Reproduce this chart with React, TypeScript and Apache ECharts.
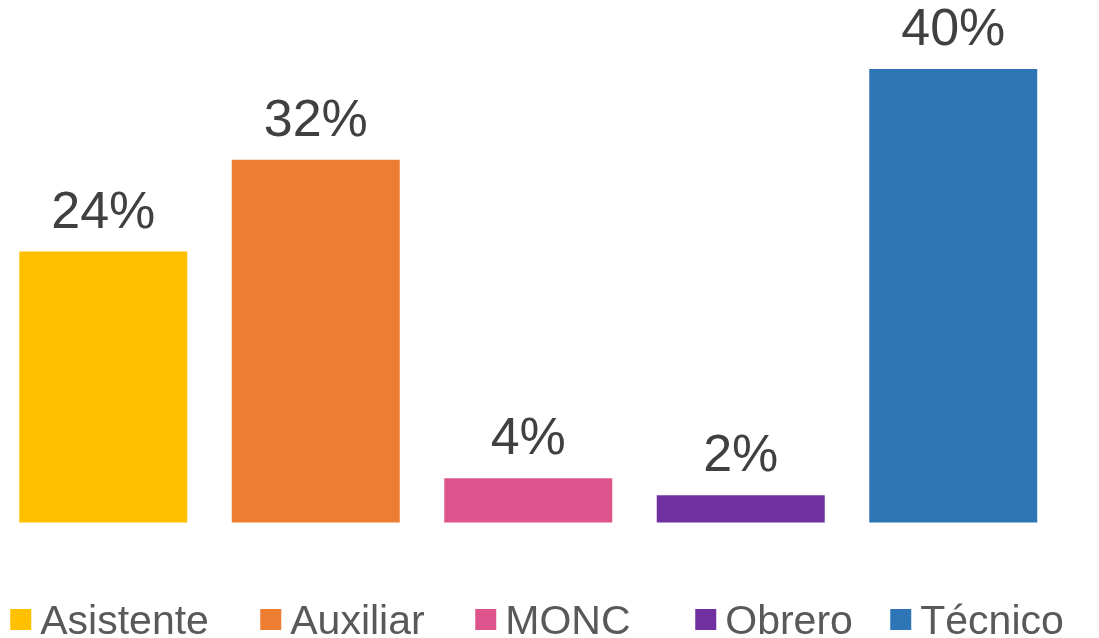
import React, { useEffect, useRef } from "react";
import * as echarts from "echarts";

const categories = ["Asistente", "Auxiliar", "MONC", "Obrero", "Técnico"];
const values = [23.9, 32, 3.9, 2.4, 40];
const colors = ["#FFC000", "#ED7D31", "#DE548C", "#7030A0", "#2E75B6"];
const legendLefts = [13.25, 263.25, 478.25, 698.25, 893.25];

export default function App() {
  const ref = useRef<HTMLDivElement>(null);
  useEffect(() => {
    if (!ref.current) return;
    const chart = echarts.init(ref.current, null, { renderer: "svg" });
    const font = "'Liberation Sans', Arial, sans-serif";
    const series = categories.map((name, i) => ({
      name,
      type: "bar",
      stack: "all",
      barWidth: 168,
      itemStyle: { color: colors[i] },
      label: {
        show: true,
        position: "top",
        distance: 21,
        fontSize: 52,
        lineHeight: 42,
        fontFamily: font,
        color: "#404040",
        formatter: (p: any) => Math.round(p.value) + "%",
      },
      data: categories.map((_, j) => (j === i ? values[i] : null)),
    }));
    chart.setOption({
      animation: false,
      grid: { left: 0, width: 1062.5, top: 69, bottom: 115.5 },
      xAxis: { type: "category", data: categories, show: false },
      yAxis: { type: "value", min: 0, max: 40, show: false, splitLine: { show: false } },
      legend: categories.map((name, i) => ({
        data: [name],
        left: legendLefts[i],
        top: 599,
        padding: 0,
        itemWidth: 21,
        itemHeight: 21,
        icon: "rect",
        textStyle: {
          fontSize: 41,
          lineHeight: 34,
          fontFamily: font,
          color: "#595959",
          padding: [0, 0, 0, 4],
        },
      })),
      series,
    });
    return () => chart.dispose();
  }, []);
  return (
    <div
      ref={ref}
      style={{ position: "fixed", left: -3.25, top: 0, width: 1102.25, height: 638 }}
    />
  );
}
